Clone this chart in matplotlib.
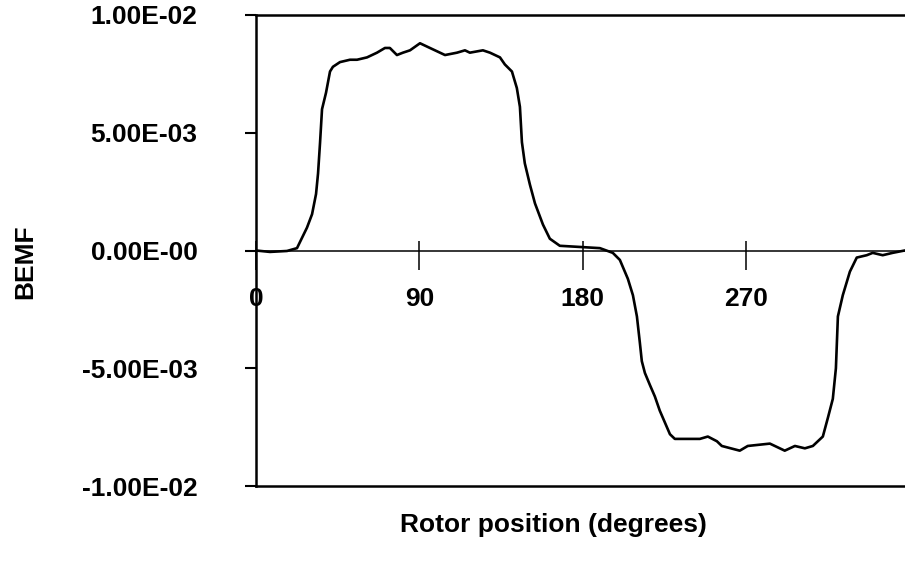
import matplotlib
matplotlib.use("Agg")
import matplotlib.pyplot as plt

plt.rcParams['font.family'] = ['Liberation Sans', 'DejaVu Sans']
plt.rcParams['font.weight'] = 'bold'

# rotor position (degrees) and back EMF
position = [0, 7.7, 17.1, 22.6, 28.1, 30.9, 33.1, 34.2, 35.3, 36.4, 38.6, 40.8,
            42.4, 46.3, 51.8, 55.7, 61.2, 66.7, 71.1, 73.8, 77.7, 81.0, 84.9,
            90.4, 95.9, 104.2, 110.8, 115.2, 117.9, 125.1, 129.0, 134.5, 137.2,
            141.1, 143.8, 145.5, 146.6, 148.2, 151.0, 153.8, 158.2, 162.0,
            167.5, 178.6, 189.6, 196.7, 200.6, 205.0, 207.8, 210.0, 211.6,
            212.7, 214.4, 217.1, 219.9, 222.6, 225.4, 228.2, 230.9, 236.4,
            244.7, 249.1, 254.1, 256.8, 266.7, 271.1, 283.3, 291.5, 297.1,
            302.6, 307.0, 312.5, 315.3, 318.0, 319.7, 320.8, 323.5, 327.4,
            331.2, 336.7, 340.0, 345.5, 351.0, 357.6, 360]
bemf = [0, -0.00006, -0.00002, 0.0001, 0.00097, 0.00154, 0.0024, 0.00327,
        0.00457, 0.0060, 0.0067, 0.0076, 0.0078, 0.0080, 0.0081, 0.0081,
        0.0082, 0.0084, 0.0086, 0.0086, 0.0083, 0.0084, 0.0085, 0.0088,
        0.0086, 0.0083, 0.0084, 0.0085, 0.0084, 0.0085, 0.0084, 0.0082,
        0.0079, 0.0076, 0.0069, 0.0061, 0.0046, 0.0037, 0.0028, 0.0020,
        0.0011, 0.0005, 0.0002, 0.00015, 0.0001, -0.0001, -0.0004, -0.0012,
        -0.0019, -0.0028, -0.0039, -0.0047, -0.0052, -0.0057, -0.0062,
        -0.0068, -0.0073, -0.0078, -0.0080, -0.0080, -0.0080, -0.0079,
        -0.0081, -0.0083, -0.0085, -0.0083, -0.0082, -0.0085, -0.0083,
        -0.0084, -0.0083, -0.0079, -0.0071, -0.0063, -0.0050, -0.0028,
        -0.0019, -0.0009, -0.0003, -0.0002, -0.0001, -0.0002, -0.0001, 0.0, 0.0]

x_ticks = [0, 90, 180, 270]
y_ticks = [-0.01, -0.005, 0, 0.005, 0.01]
y_labels = ["-1.00E-02", "-5.00E-03", "0.00E-00", "5.00E-03", "1.00E-02"]

fig = plt.figure(figsize=(9.05, 5.61), dpi=100)
ax = fig.add_axes([256 / 905, 75 / 561, 653 / 905, 471 / 561])

ax.plot(position, bemf, color="black", lw=1.9)
ax.set_xlim(0, 360)
ax.set_ylim(-0.01, 0.01)

# x axis runs through zero
ax.spines['bottom'].set_position(('data', 0))
ax.spines['bottom'].set_linewidth(1.1)
ax.spines['right'].set_visible(False)
ax.spines['top'].set_linewidth(1.8)
ax.spines['left'].set_linewidth(1.8)
ax.axhline(-0.01, color="black", lw=1.8, clip_on=False)

ax.set_yticks(y_ticks)
ax.set_yticklabels(y_labels)
ax.tick_params(axis='y', direction='out', length=8, width=1.5, pad=34,
               labelsize=19)

# ticks cross the zero line: short part above, longer part below
ax.xaxis.remove_overlapping_locs = False
ax.set_xticks(x_ticks)
ax.set_xticks(x_ticks, minor=True)
ax.tick_params(axis='x', which='major', direction='in', length=7, width=1.1,
               pad=26, labelsize=19)
ax.tick_params(axis='x', which='minor', direction='out', length=14, width=1.1)

fig.text(25 / 905, 1 - 262 / 561, "BEMF", rotation=90, ha="center",
         va="center", fontsize=19, fontweight="bold")
fig.text(553 / 905, 1 - 525 / 561, "Rotor position (degrees)", ha="center",
         va="center", fontsize=19, fontweight="bold")

fig.savefig("out.png", dpi=100)
